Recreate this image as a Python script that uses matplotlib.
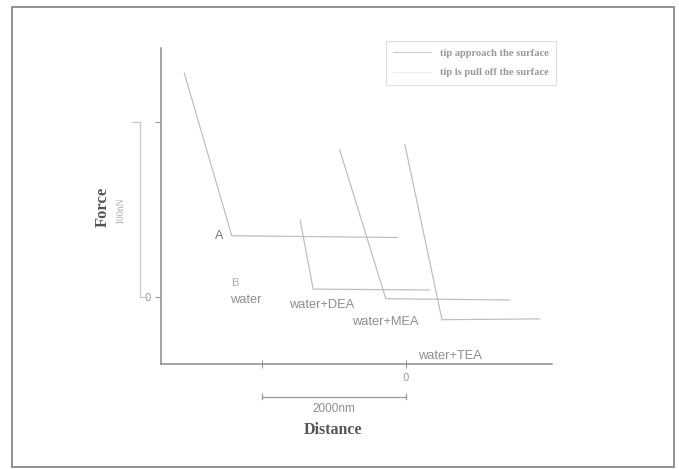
import matplotlib
matplotlib.use("Agg")
import matplotlib.pyplot as plt
from matplotlib.lines import Line2D
from matplotlib.patches import Rectangle

# Force-distance curves (approach), distance in nm, force in nN
water_x = [-3080, -2420, -120]
water_y = [128, 35, 34]
dea_x = [-1470, -1290, 330]
dea_y = [44, 4.5, 4]
mea_x = [-920, -280, 1440]
mea_y = [84, -1, -1.7]
tea_x = [-15, 500, 1860]
tea_y = [87, -13, -12.5]

curve_labels = ["water", "water+DEA", "water+MEA", "water+TEA"]
label_x = [-2220, -1170, -290, 610]
label_y = [-2, -4.6, -14.3, -33.7]

legend_labels = ["tip approach the surface", "tip is pull off the surface"]

# scale bars
bar_force = 100     # nN
bar_dist = 2000     # nm

line_color = "#bcbcbc"
text_color = "#8e8e8e"
serif = "Liberation Serif"
sans = "Liberation Sans"

fig = plt.figure(figsize=(6.79, 4.69), dpi=100)
ax = fig.add_axes([161 / 679, 1 - 364 / 469, 391 / 679, 316 / 469])

for xs, ys in [(water_x, water_y), (dea_x, dea_y), (mea_x, mea_y), (tea_x, tea_y)]:
    ax.plot(xs, ys, color=line_color, lw=0.85)

for name, lx, ly in zip(curve_labels, label_x, label_y):
    ax.text(lx, ly, name, fontsize=9.3, color=text_color, family=sans, ha="center", va="center")
ax.text(-2600, 35, "A", fontsize=9, color="#7a7a7a", family=sans, ha="center", va="center")
ax.text(-2375, 8, "B", fontsize=8, color="#aaaaaa", family=sans, ha="center", va="center")

ax.set_xlim(-3403, 2028)
ax.set_ylim(-38.3, 142.3)

for s in ["top", "right"]:
    ax.spines[s].set_visible(False)
for s in ["left", "bottom"]:
    ax.spines[s].set_color("#8c8c8c")
    ax.spines[s].set_linewidth(1.1)

ax.set_yticks([0, bar_force])
ax.set_yticklabels(["0", ""])
ax.set_xticks([-bar_dist, 0])
ax.set_xticklabels(["", "0"])
ax.tick_params(axis="both", colors="#999999", labelcolor="#999999", labelsize=7.5, length=4, width=0.8)
ax.tick_params(axis="x", direction="inout", length=6)

# vertical force scale bar
bx = -3694
ax.plot([bx, bx], [0, bar_force], color="#c8c8c8", lw=0.9, clip_on=False)
ax.plot([bx - 110, bx], [bar_force, bar_force], color="#c8c8c8", lw=0.9, clip_on=False)
ax.plot([bx, bx + 90], [0, 0], color="#c8c8c8", lw=0.9, clip_on=False)

# horizontal distance scale bar
by = -57
ax.plot([-bar_dist, 0], [by, by], color="#9a9a9a", lw=0.9, clip_on=False)
ax.plot([-bar_dist, -bar_dist], [by - 1.5, by + 1.5], color="#9a9a9a", lw=0.9, clip_on=False)
ax.plot([0, 0], [by - 1.5, by + 1.5], color="#9a9a9a", lw=0.9, clip_on=False)
ax.text(-bar_dist / 2, by - 7, "2000nm", fontsize=8.5, color=text_color, family=sans, ha="center", va="center")

fig.text(333 / 679, 1 - 430 / 469, "Distance", fontsize=11.5, fontweight="bold", family=serif,
         color="#555555", ha="center", va="center")
fig.text(103 / 679, 1 - 207 / 469, "Force", fontsize=12, fontweight="bold", family=serif,
         color="#555555", rotation=90, ha="center", va="center")
fig.text(121 / 679, 1 - 211 / 469, "100nN", fontsize=7, family=serif,
         color="#aaaaaa", rotation=90, ha="center", va="center")

handles = [Line2D([], [], color="#cccccc", lw=0.8), Line2D([], [], color="#eeeeee", lw=0.8)]
leg = fig.legend(handles, legend_labels, loc="upper right", bbox_to_anchor=(561 / 679, 1 - 36 / 469),
                 prop={"family": serif, "weight": "bold", "size": 7.6}, frameon=True, fancybox=False,
                 edgecolor="#dddddd", framealpha=1, handlelength=3.6, handletextpad=0.8,
                 borderpad=0.7, labelspacing=0.95)
leg.get_frame().set_linewidth(0.8)
for t in leg.get_texts():
    t.set_color("#999999")

# outer frame
fig.patches.append(Rectangle((12 / 679, 2 / 469), 662 / 679, 460 / 469, transform=fig.transFigure,
                             fill=False, edgecolor="#888888", lw=1.3))

fig.savefig("out.png", dpi=100)
